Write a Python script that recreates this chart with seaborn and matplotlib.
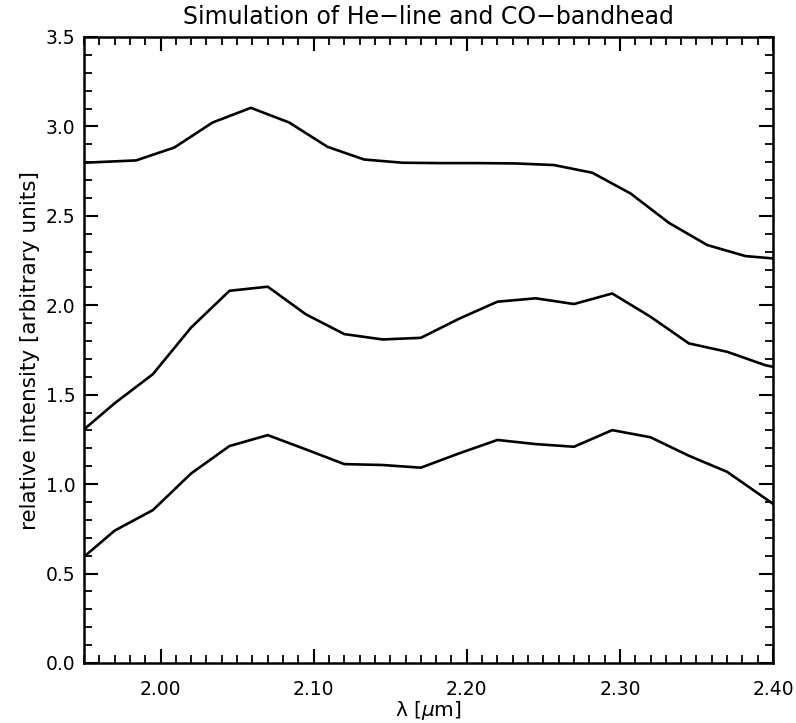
import matplotlib
matplotlib.use("Agg")
import matplotlib.pyplot as plt
from matplotlib.ticker import MultipleLocator, FormatStrFormatter
import seaborn as sns
import pandas as pd

# wavelengths (micron) and relative intensities
x_top = [1.950, 1.984, 2.009, 2.034, 2.059, 2.084, 2.109, 2.133, 2.158, 2.182,
         2.207, 2.232, 2.257, 2.282, 2.307, 2.332, 2.357, 2.382, 2.400]
y_top = [2.797, 2.810, 2.882, 3.022, 3.104, 3.022, 2.886, 2.815, 2.797, 2.795,
         2.795, 2.793, 2.784, 2.741, 2.625, 2.461, 2.337, 2.275, 2.262]

x_mid = [1.950, 1.970, 1.995, 2.020, 2.045, 2.070, 2.095, 2.120, 2.145, 2.170,
         2.195, 2.220, 2.245, 2.270, 2.295, 2.320, 2.345, 2.370, 2.395, 2.400]
y_mid = [1.306, 1.452, 1.615, 1.876, 2.081, 2.104, 1.949, 1.839, 1.809, 1.818,
         1.925, 2.020, 2.039, 2.007, 2.066, 1.936, 1.787, 1.740, 1.665, 1.656]

x_bot = [1.950, 1.970, 1.995, 2.020, 2.045, 2.070, 2.095, 2.120, 2.145, 2.170,
         2.195, 2.220, 2.245, 2.270, 2.295, 2.320, 2.345, 2.370, 2.400]
y_bot = [0.594, 0.740, 0.855, 1.060, 1.213, 1.274, 1.194, 1.112, 1.107, 1.092,
         1.172, 1.247, 1.224, 1.209, 1.302, 1.262, 1.159, 1.069, 0.890]

x_ticks = [2.00, 2.10, 2.20, 2.30, 2.40]
y_ticks = [0.0, 0.5, 1.0, 1.5, 2.0, 2.5, 3.0, 3.5]

title = "Simulation of He\u2212line and CO\u2212bandhead"
xlabel = "\u03bb [$\\mu$m]"
ylabel = "relative intensity [arbitrary units]"

sns.set_theme(style="ticks")
plt.rcParams['font.family'] = ['DejaVu Sans']
plt.rcParams['mathtext.fontset'] = 'dejavusans'

fig = plt.figure(figsize=(7.96, 7.23), dpi=100)
ax = fig.add_axes([84/796, 1-663/723, (773-84)/796, (663-37)/723])

for xs, ys in [(x_top, y_top), (x_mid, y_mid), (x_bot, y_bot)]:
    df = pd.DataFrame({"x": xs, "y": ys})
    sns.lineplot(data=df, x="x", y="y", ax=ax, color="black", linewidth=1.9,
                 sort=False, estimator=None)

ax.set_xlim(1.95, 2.40)
ax.set_ylim(0.0, 3.5)
ax.set_xticks(x_ticks)
ax.set_yticks(y_ticks)
ax.xaxis.set_minor_locator(MultipleLocator(0.01))
ax.yaxis.set_minor_locator(MultipleLocator(0.1))
ax.xaxis.set_major_formatter(FormatStrFormatter('%.2f'))
ax.yaxis.set_major_formatter(FormatStrFormatter('%.1f'))

ax.tick_params(which='both', direction='in', top=True, right=True,
               color='black', labelcolor='black')
ax.tick_params(which='major', length=10, width=1.5, labelsize=13.5)
ax.tick_params(axis='x', which='major', pad=12)
ax.tick_params(axis='y', which='major', pad=6)
ax.tick_params(which='minor', length=5.5, width=1.3)
for s in ax.spines.values():
    s.set_linewidth(1.8)
    s.set_color('black')

ax.set_title(title, fontsize=17, pad=9, color='black')
ax.set_xlabel(xlabel, fontsize=14.5, labelpad=0, color='black')
ax.set_ylabel(ylabel, fontsize=15.5, labelpad=4, color='black')

fig.savefig("out.png", dpi=100, facecolor='white')
